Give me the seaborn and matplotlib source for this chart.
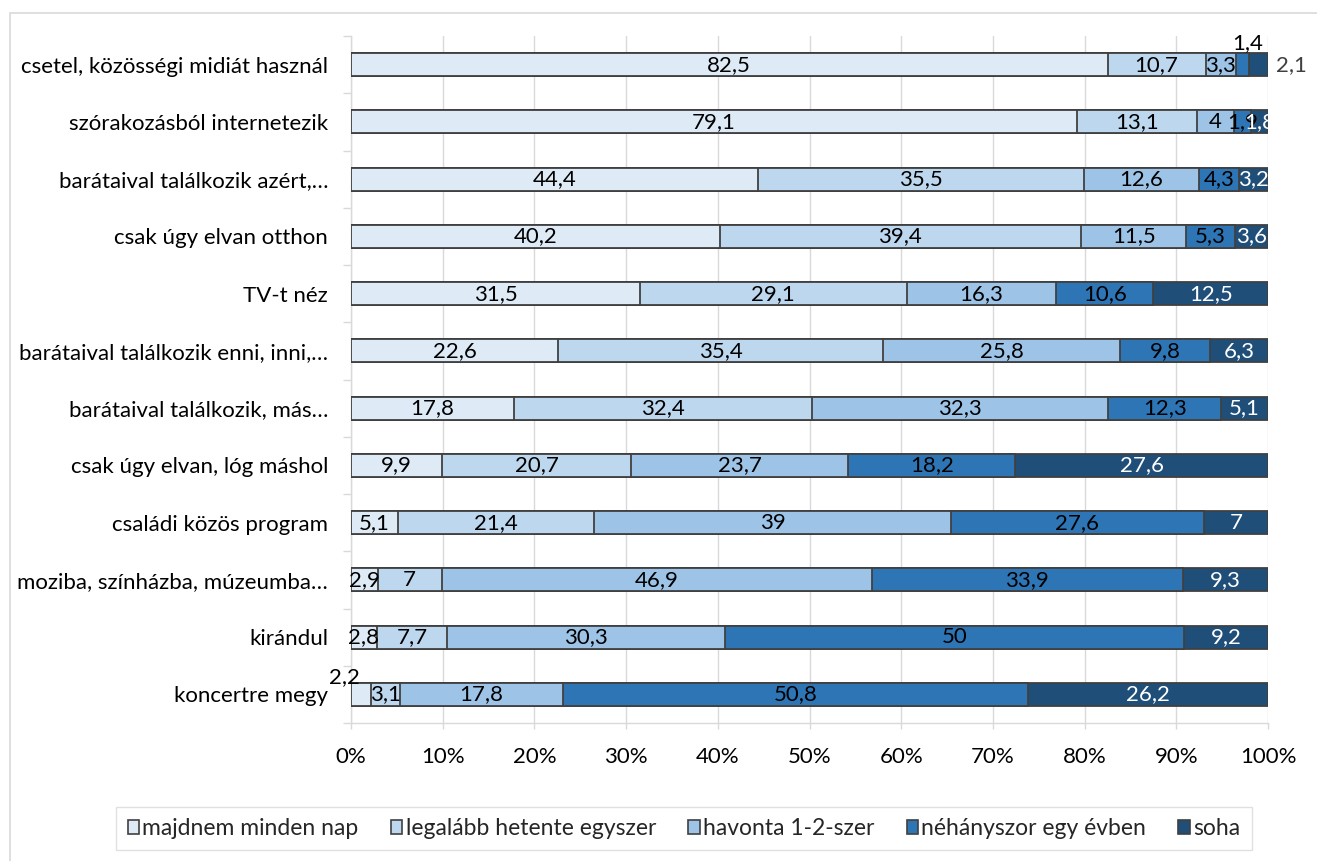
import numpy as np
import pandas as pd
import matplotlib
matplotlib.use("Agg")
import matplotlib.pyplot as plt
import matplotlib.patches as mpatches
import seaborn as sns

categories = [
    "csetel, közösségi midiát használ",
    "szórakozásból internetezik",
    "barátaival találkozik azért,…",
    "csak úgy elvan otthon",
    "TV-t néz",
    "barátaival találkozik enni, inni,…",
    "barátaival találkozik, más…",
    "csak úgy elvan, lóg máshol",
    "családi közös program",
    "moziba, színházba, múzeumba…",
    "kirándul",
    "koncertre megy",
]
series_names = [
    "majdnem minden nap",
    "legalább hetente egyszer",
    "havonta 1-2-szer",
    "néhányszor egy évben",
    "soha",
]
majdnem = [82.5, 79.1, 44.4, 40.2, 31.5, 22.6, 17.8, 9.9, 5.1, 2.9, 2.8, 2.2]
hetente = [10.7, 13.1, 35.5, 39.4, 29.1, 35.4, 32.4, 20.7, 21.4, 7, 7.7, 3.1]
havonta = [3.3, 4, 12.6, 11.5, 16.3, 25.8, 32.3, 23.7, 39, 46.9, 30.3, 17.8]
evente = [1.4, 1.9, 4.3, 5.3, 10.6, 9.8, 12.3, 18.2, 27.6, 33.9, 50, 50.8]
soha = [2.1, 1.8, 3.2, 3.6, 12.5, 6.3, 5.1, 27.6, 7, 9.3, 9.2, 26.2]

colors = ["#DEEBF7", "#BDD7EE", "#9DC3E6", "#2E75B6", "#1F4E79"]
label_colors = ["black", "black", "black", "black", "white"]

sns.set_theme(style="white")
plt.rcParams["font.family"] = ["Lato", "DejaVu Sans"]

values = np.array([majdnem, hetente, havonta, evente, soha], dtype=float)
totals = values.sum(axis=0)
pct = values / totals * 100.0          # 100 % stacked
cum = np.cumsum(pct, axis=0)

fig = plt.figure(figsize=(13.17, 8.61), dpi=100)
ax = fig.add_axes([351 / 1317, 1 - 723 / 861, 917 / 1317, 687 / 861])

edge = "#404040"
# draw from the full stack down so each shorter stack sits on top
for i in reversed(range(len(series_names))):
    df = pd.DataFrame({"cat": categories, "x": cum[i]})
    sns.barplot(data=df, x="x", y="cat", orient="h", color=colors[i],
                saturation=1, edgecolor=edge, linewidth=1.3, width=0.4,
                ax=ax, zorder=3)

# segment labels
fmt = lambda v: f"{v:g}".replace(".", ",")
for i in range(len(series_names)):
    for r, cat in enumerate(categories):
        v = values[i, r]
        xc = cum[i, r] - pct[i, r] / 2
        yc = r
        col = label_colors[i]
        if r == 0 and i == 3:
            xc += 0.6
            yc -= 0.37
            col = "black"
        elif r == 0 and i == 4:
            xc = 102.6
            col = "#404040"
        elif r == 11 and i == 0:
            xc -= 1.8
            yc -= 0.3
        ax.text(xc, yc, fmt(v), ha="center", va="center", color=col,
                fontsize=16, zorder=5, clip_on=False)

ax.set_xlim(0, 100)
ax.set_ylim(len(categories) - 0.5, -0.5)
ax.set_xticks(np.arange(0, 101, 10))
ax.set_xticklabels([f"{t}%" for t in range(0, 101, 10)])
ax.set_xlabel("")
ax.set_ylabel("")
ax.grid(axis="x", color="#D9D9D9", linewidth=1, zorder=0)
ax.set_axisbelow(True)

for s in ["top", "right"]:
    ax.spines[s].set_visible(False)
for s in ["left", "bottom"]:
    ax.spines[s].set_color("#D9D9D9")
    ax.spines[s].set_linewidth(1)

ax.set_yticks(np.arange(-0.5, len(categories), 1.0), minor=True)
ax.tick_params(axis="y", which="major", length=0, pad=16.5, labelsize=16,
               labelcolor="black")
ax.tick_params(axis="y", which="minor", length=6, color="#D9D9D9", width=1,
               left=True)
ax.tick_params(axis="x", which="major", length=4, color="#D9D9D9", width=1,
               bottom=True, pad=13, labelsize=16, labelcolor="black")

handles = [mpatches.Patch(facecolor=c, edgecolor=edge, linewidth=1.2)
           for c in colors]
leg = fig.legend(handles, series_names, loc="center",
                 bbox_to_anchor=(684 / 1317, 1 - 828.5 / 861), ncol=5,
                 frameon=True, fontsize=16.5, handlelength=0.5,
                 handleheight=0.6, handletextpad=0.15, columnspacing=1.4,
                 borderpad=0.5, fancybox=False, borderaxespad=0)
leg.get_frame().set_edgecolor("#D9D9D9")
leg.get_frame().set_linewidth(1)

fig.patches.append(mpatches.Rectangle((10 / 1317, -0.02), 1.05, 1 - 13 / 861 + 0.02,
                                      transform=fig.transFigure, fill=False,
                                      edgecolor="#D9D9D9", linewidth=1.2))

fig.savefig("out.png", dpi=100)
